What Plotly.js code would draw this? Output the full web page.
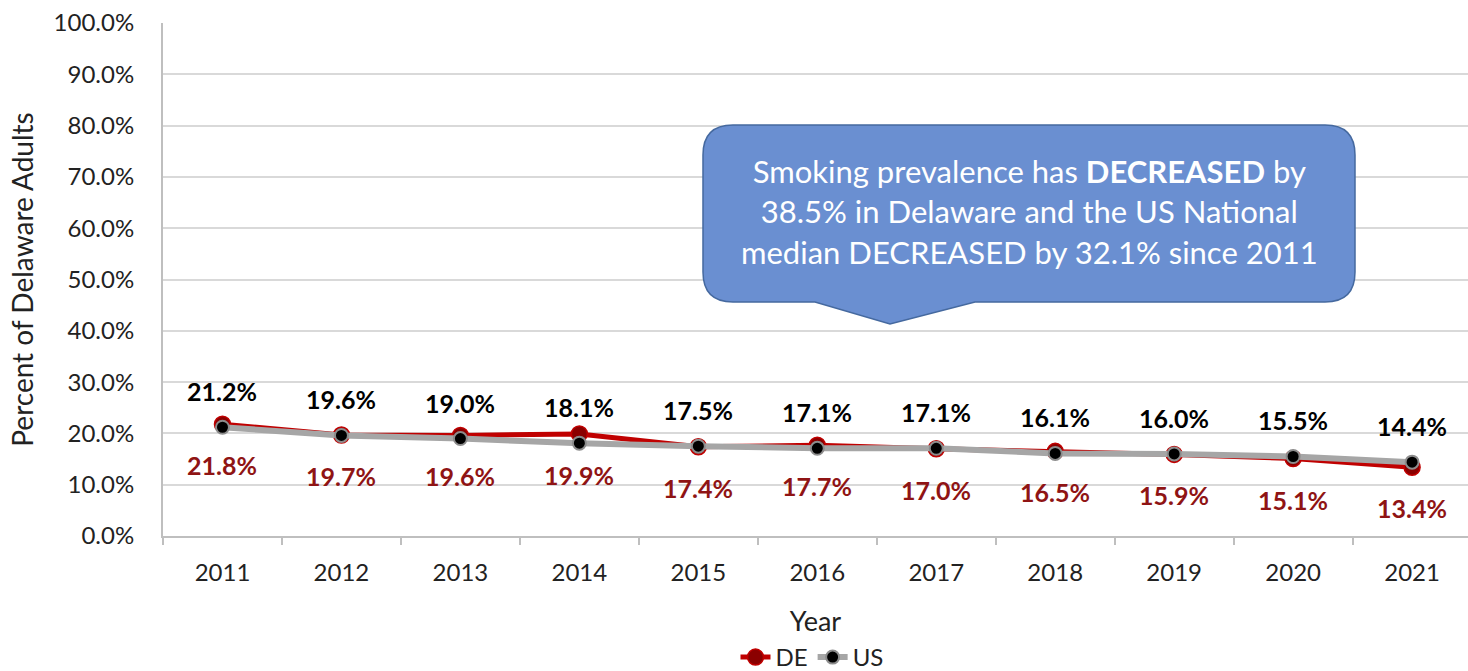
<!DOCTYPE html>
<html><head><meta charset="utf-8">
<script src="https://cdn.plot.ly/plotly-3.0.1.min.js"></script>
<style>html,body{margin:0;padding:0;background:#fff}#chart{width:1468px;height:671px}</style>
</head><body><div id="chart"></div>
<script>
const years = ['2011','2012','2013','2014','2015','2016','2017','2018','2019','2020','2021'];
const deValues = [21.8,19.7,19.6,19.9,17.4,17.7,17.0,16.5,15.9,15.1,13.4];
const usValues = [21.2,19.6,19.0,18.1,17.5,17.1,17.1,16.1,16.0,15.5,14.4];
const yTickVals = [0,10,20,30,40,50,60,70,80,90,100];
const calloutText = 'Smoking prevalence has <b>DECREASED</b> by<br>38.5% in Delaware and the US National<br>median DECREASED by 32.1% since 2011';

const FONT = 'Lato, "Open Sans", sans-serif';
const W = 1468, H = 671;
const ML=163, MR=0, MT=23, MB=135;
const pw = W - ML - MR, ph = H - MT - MB;
const px = x => (x - ML) / pw;
const py = y => 1 - (y - MT) / ph;

// callout path (pixel geometry -> paper coords)
const L=703, R=1355, T=125, B=302, rad=30, bl=815, br=975, tipX=890, tipY=324;
const P = (x,y) => px(x).toFixed(5)+','+py(y).toFixed(5);
const path = 'M'+P(L+rad,T)+' L'+P(R-rad,T)+' Q'+P(R,T)+' '+P(R,T+rad)+
  ' L'+P(R,B-rad)+' Q'+P(R,B)+' '+P(R-rad,B)+' L'+P(br,B)+' L'+P(tipX,tipY)+' L'+P(bl,B)+
  ' L'+P(L+rad,B)+' Q'+P(L,B)+' '+P(L,B-rad)+' L'+P(L,T+rad)+' Q'+P(L,T)+' '+P(L+rad,T)+' Z';

const fmt = v => v.toFixed(1) + '%';
const annotations = [];
years.forEach((yr,i) => {
  annotations.push({x:i, y:usValues[i], xref:'x', yref:'y', text:'<b>'+fmt(usValues[i])+'</b>',
    showarrow:false, yshift:36, xanchor:'center', yanchor:'middle', font:{family:FONT, size:25, color:'#000000'}});
  annotations.push({x:i, y:deValues[i], xref:'x', yref:'y', text:'<b>'+fmt(deValues[i])+'</b>',
    showarrow:false, yshift:-41, xanchor:'center', yanchor:'middle', font:{family:FONT, size:25, color:'#8f1414'}});
});
annotations.push({xref:'paper', yref:'paper', x:px(1029), y:py(211), xanchor:'center', yanchor:'middle',
  text:calloutText, showarrow:false, align:'center', font:{family:FONT, size:31, color:'#ffffff'}});

const traces = [
  {x:years, y:deValues, name:'DE', type:'scatter', mode:'lines+markers',
   line:{color:'#c00000', width:5}, marker:{color:'#8b0000', size:16, line:{color:'#c00000', width:1.5}}},
  {x:years, y:usValues, name:'US', type:'scatter', mode:'lines+markers',
   line:{color:'#a6a6a6', width:6}, marker:{color:'#000000', size:13, line:{color:'#8c8c8c', width:2}}}
];

const layout = {
  width:W, height:H, margin:{l:ML, r:MR, t:MT, b:MB, autoexpand:false}, paper_bgcolor:'#ffffff', plot_bgcolor:'#ffffff',
  font:{family:FONT, size:24, color:'#222222'},
  showlegend:true,
  legend:{orientation:'h', x:px(812), xanchor:'center', y:py(680), yanchor:'bottom',
    font:{family:FONT, size:24, color:'#222222'}, borderwidth:0},
  xaxis:{type:'category', range:[-0.5,10.47], showgrid:false, showline:true, linecolor:'#bfbfbf', linewidth:2,
    ticks:'outside', tickson:'boundaries', ticklen:7, tickcolor:'#bfbfbf', tickwidth:2, tickangle:0, automargin:false,
    ticklabelstandoff:14, tickfont:{family:FONT, size:24, color:'#222222'},
    title:{text:'Year', font:{family:FONT, size:27, color:'#222222'}, standoff:27}},
  yaxis:{range:[0,100], tickvals:yTickVals, ticktext:yTickVals.map(v=>v.toFixed(1)+'%'), automargin:false,
    showgrid:true, gridcolor:'#d9d9d9', gridwidth:2, showline:true, linecolor:'#bfbfbf', linewidth:2,
    zeroline:false, ticks:'', ticklabelstandoff:22, tickfont:{family:FONT, size:24, color:'#222222'},
    title:{text:'Percent of Delaware Adults', font:{family:FONT, size:28, color:'#222222'}, standoff:12}},
  shapes:[{type:'path', xref:'paper', yref:'paper', path:path, fillcolor:'#6a8fd1',
    line:{color:'#45699f', width:1.5}, layer:'above'}],
  annotations:annotations
};

Plotly.newPlot('chart', traces, layout, {displayModeBar:false});
</script></body></html>
